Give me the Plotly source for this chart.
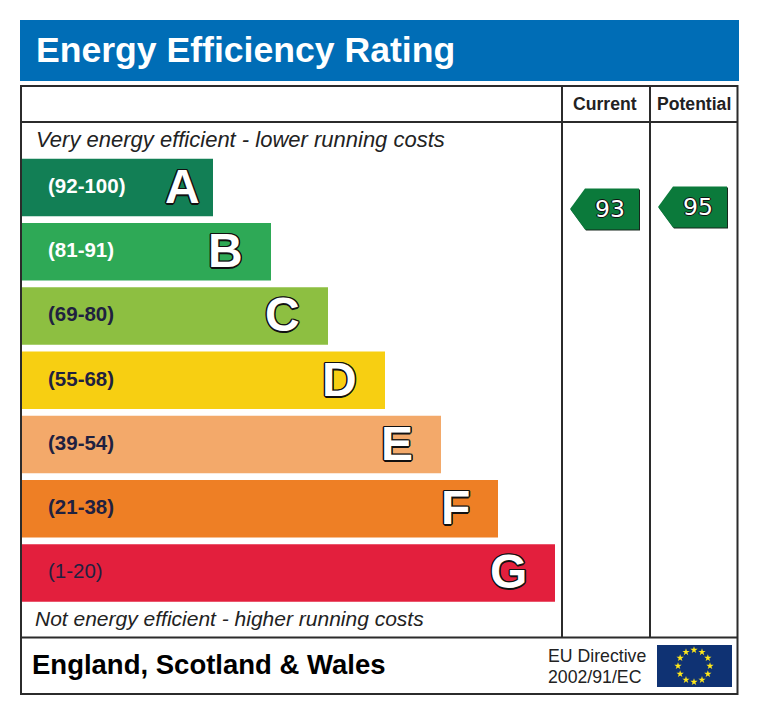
import math
import plotly.graph_objects as go

# Energy efficiency bands, top to bottom
band_letters = ["A", "B", "C", "D", "E", "F", "G"]
band_ranges = ["(92-100)", "(81-91)", "(69-80)", "(55-68)", "(39-54)", "(21-38)", "(1-20)"]
bar_lengths = [191, 249, 306, 363, 419, 476, 533]
band_colors = ["#127F55", "#2EA956", "#8DBF41", "#F7CF12", "#F3A96A", "#EE7F25", "#E31F3D"]
range_colors = ["#FFFFFF", "#FFFFFF", "#1F2140", "#1F2140", "#1F2140", "#1F2140", "#1F2140"]

column_names = ["Current", "Potential"]
ratings = [93, 95]

# The page has an 8px body margin, so the figure is smaller and the pixel axes start at 8
PAGE = 8
W = 744
H = 699
LINE = "#2B2B2B"
FONT = "Liberation Sans"

fig = go.Figure()

################
# The bands
fig.add_trace(go.Bar(
    x=bar_lengths,
    y=band_letters,
    orientation="h",
    marker=dict(color=band_colors, line=dict(width=0)),
    hoverinfo="skip",
    showlegend=False,
))

################
# EU flag stars, on the pixel axes
star_x = [694 + 16 * math.sin(math.radians(30 * i)) for i in range(12)]
star_y = [666 - 16 * math.cos(math.radians(30 * i)) for i in range(12)]
fig.add_trace(go.Scatter(
    x=star_x,
    y=star_y,
    xaxis="x2",
    yaxis="y2",
    mode="markers",
    marker=dict(symbol="star", size=5.5, color="#FFE81A", line=dict(width=0)),
    hoverinfo="skip",
    showlegend=False,
))

shapes = []
annotations = []


def add_rect(x0, y0, x1, y1, fill):
    shapes.append(dict(type="rect", xref="x2", yref="y2", x0=x0, y0=y0, x1=x1, y1=y1,
                       fillcolor=fill, line=dict(width=0), layer="below"))


def add_line(x0, y0, x1, y1):
    shapes.append(dict(type="line", xref="x2", yref="y2", x0=x0, y0=y0, x1=x1, y1=y1,
                       line=dict(color=LINE, width=2)))


def add_text(x, y, text, size, color="#222222", bold=False, italic=False, anchor="left", shadow="none", family=FONT):
    annotations.append(dict(
        xref="x2", yref="y2", x=x, y=y, text=text, showarrow=False,
        xanchor=anchor, yanchor="middle",
        font=dict(family=family, size=size, color=color, shadow=shadow,
                  weight="bold" if bold else "normal",
                  style="italic" if italic else "normal"),
    ))


def arrow_path(left, mid, dx=0, dy=0):
    right = left + 69
    top = mid - 20.5
    bottom = mid + 20.5
    notch = left + 15
    points = [(left, mid), (notch, top), (right, top), (right, bottom), (notch, bottom)]
    return "M " + " L ".join("%g %g" % (x + dx, y + dy) for x, y in points) + " Z"


OUTLINE = ",".join("%gpx %gpx 0 #111111" % (dx, dy) for dx, dy in
                   [(-1.5, 0), (1.5, 0), (0, -1.5), (0, 1.5), (-1, -1), (1, -1), (-1, 1), (1, 1)])

################
# Header and frame
add_rect(20, 20, 739, 81, "#006DB6")
add_text(33.5, 50, "Energy Efficiency Rating", 35.6, color="#FFFFFF", bold=True)
add_line(21, 86, 737.5, 86)
add_line(21, 694, 737.5, 694)
add_line(21, 85, 21, 695)
add_line(737.5, 85, 737.5, 695)
add_line(21, 122, 737.5, 122)
add_line(21, 637.5, 737.5, 637.5)
add_line(562, 86, 562, 637.5)
add_line(650, 86, 650, 637.5)

add_text(34, 139.5, "Very energy efficient - lower running costs", 22, italic=True)
add_text(33, 618.5, "Not energy efficient - higher running costs", 21, italic=True)

################
# Band labels sit on the bar axes, so they follow the bars
for letter, label, length, color in zip(band_letters, band_ranges, bar_lengths, range_colors):
    annotations.append(dict(
        xref="x", yref="y", x=24, y=letter, yshift=2, text=label, showarrow=False, xanchor="left",
        font=dict(family=FONT, size=20.5, color=color, weight="normal" if letter == "G" else "bold"),
    ))
    # A sits closer to the end of its bar than the others
    inset = 11 if letter == "A" else 26
    annotations.append(dict(
        xref="x", yref="y", x=length - inset, y=letter, yshift=1, text=letter, showarrow=False, xanchor="right",
        font=dict(family=FONT, size=48, color="#FFFFFF", weight="bold", shadow=OUTLINE),
    ))

################
# Current / potential arrows
column_left = [570, 658]
header_x = [604.5, 694]
for name, rating, left, head in zip(column_names, ratings, column_left, header_x):
    mid = 302 - rating
    shapes.append(dict(type="path", xref="x2", yref="y2", path=arrow_path(left, mid, 1, 1),
                       fillcolor="#16261C", line=dict(width=0)))
    shapes.append(dict(type="path", xref="x2", yref="y2", path=arrow_path(left, mid),
                       fillcolor="#0B7A3B", line=dict(width=0)))
    add_text(left + 40, mid, str(rating), 23.5, color="#FFFFFF", anchor="center", family="DejaVu Sans",
             shadow="-1.2px 0 0 #111,1.2px 0 0 #111,0 -1.2px 0 #111,0 1.2px 0 #111")
    add_text(head, 104, name, 17.6, bold=True, anchor="center")

################
# Footer
add_text(30, 664, "England, Scotland &amp; Wales", 27.5, color="#000000", bold=True)
add_text(546, 656, "EU Directive", 17.7)
add_text(546, 677, "2002/91/EC", 17.7)
add_rect(657, 645, 732, 687, "#0F3273")

fig.update_layout(
    width=W,
    height=H,
    margin=dict(l=0, r=0, t=0, b=0),
    paper_bgcolor="#FFFFFF",
    plot_bgcolor="rgba(0,0,0,0)",
    bargap=0.105,
    shapes=shapes,
    annotations=annotations,
    xaxis=dict(domain=[(22 - PAGE) / W, 1], range=[0, W + PAGE - 22], visible=False, fixedrange=True),
    yaxis=dict(domain=[1 - (605 - PAGE) / H, 1 - (155.4 - PAGE) / H], autorange="reversed", type="category",
               categoryorder="array", categoryarray=band_letters, visible=False, fixedrange=True),
    xaxis2=dict(domain=[0, 1], range=[PAGE, W + PAGE], anchor="y2", visible=False, fixedrange=True),
    yaxis2=dict(domain=[0, 1], range=[H + PAGE, PAGE], anchor="x2", visible=False, fixedrange=True),
)

fig.write_html("out.html", config=dict(displayModeBar=False))
